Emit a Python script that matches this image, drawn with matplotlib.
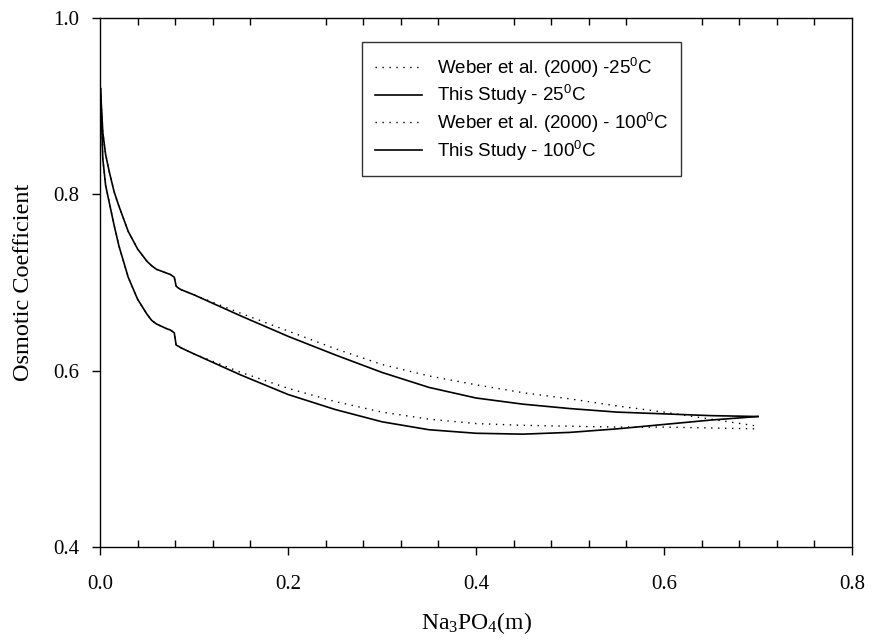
import numpy as np
import matplotlib
matplotlib.use("Agg")
from matplotlib import pyplot as plt
from matplotlib.ticker import MultipleLocator, FormatStrFormatter

plt.rcParams['mathtext.fontset'] = 'custom'
plt.rcParams['mathtext.rm'] = 'Liberation Serif'
plt.rcParams['mathtext.sf'] = 'Liberation Sans'

# molality values (m), shared low-concentration part
x_low = [0.0005, 0.003, 0.006, 0.01, 0.015, 0.02, 0.03, 0.04, 0.05, 0.055,
         0.06, 0.07, 0.075, 0.079, 0.081, 0.083, 0.086, 0.1]

# 25 C
y25_low = [0.920, 0.870, 0.845, 0.825, 0.803, 0.787, 0.758, 0.738, 0.724, 0.719,
           0.715, 0.711, 0.709, 0.706, 0.696, 0.694, 0.692, 0.686]
x_hi = [0.15, 0.2, 0.25, 0.3, 0.35, 0.4, 0.45, 0.5, 0.55, 0.6, 0.65, 0.7]
y25_study = [0.662, 0.639, 0.618, 0.598, 0.581, 0.569, 0.562, 0.557, 0.553, 0.551, 0.549, 0.548]
y25_weber = [0.665, 0.645, 0.625, 0.607, 0.594, 0.584, 0.575, 0.568, 0.560, 0.553, 0.545, 0.537]

# 100 C
y100_low = [0.920, 0.840, 0.810, 0.790, 0.765, 0.742, 0.706, 0.681, 0.664, 0.657,
            0.653, 0.648, 0.646, 0.643, 0.629, 0.628, 0.626, 0.619]
y100_study = [0.595, 0.573, 0.556, 0.542, 0.533, 0.529, 0.528, 0.530, 0.534, 0.539, 0.544, 0.548]
y100_weber = [0.598, 0.580, 0.565, 0.553, 0.545, 0.540, 0.538, 0.537, 0.536, 0.536, 0.535, 0.534]

labels = [r'Weber et al. (2000) -25$^{\mathsf{0}}$C',
          r'This Study - 25$^{\mathsf{0}}$C',
          r'Weber et al. (2000) - 100$^{\mathsf{0}}$C',
          r'This Study - 100$^{\mathsf{0}}$C']

x = np.array(x_low + x_hi)
w25 = np.array(y25_low + y25_weber)
s25 = np.array(y25_low + y25_study)
w100 = np.array(y100_low + y100_weber)
s100 = np.array(y100_low + y100_study)

fig = plt.figure(figsize=(8.72, 6.41), dpi=100)
ax = fig.add_axes([100 / 872, 94 / 641, 752 / 872, 529 / 641])

dots = dict(color='black', lw=1.0, linestyle=(0, (1, 4)))
solid = dict(color='black', lw=1.2)
ax.plot(x, w25, label=labels[0], **dots)
ax.plot(x, s25, label=labels[1], **solid)
ax.plot(x, w100, label=labels[2], **dots)
ax.plot(x, s100, label=labels[3], **solid)

ax.set_xlim(0, 0.8)
ax.set_ylim(0.4, 1.0)
ax.xaxis.set_major_locator(MultipleLocator(0.2))
ax.xaxis.set_minor_locator(MultipleLocator(0.04))
ax.yaxis.set_major_locator(MultipleLocator(0.2))
ax.xaxis.set_major_formatter(FormatStrFormatter('%.1f'))
ax.yaxis.set_major_formatter(FormatStrFormatter('%.1f'))

ax.tick_params(axis='x', which='major', direction='out', length=6, width=1,
               top=False, bottom=True, labelsize=15, pad=14)
ax.tick_params(axis='x', which='minor', direction='in', length=5, width=1,
               top=True, bottom=True)
ax.tick_params(axis='y', which='major', direction='out', length=6, width=1,
               right=False, labelsize=15, pad=9)
for lab in ax.get_xticklabels() + ax.get_yticklabels():
    lab.set_fontfamily('Liberation Serif')
for sp in ax.spines.values():
    sp.set_linewidth(1.0)

ax.set_xlabel(r'$\mathrm{Na_3PO_4(m)}$', fontsize=17, labelpad=12)
ax.set_ylabel('Osmotic Coefficient', fontsize=17.5, family='Liberation Serif', labelpad=14)

leg = ax.legend(loc='upper left', bbox_to_anchor=(0.348, 0.955), borderaxespad=0,
                prop={'family': 'Liberation Sans', 'size': 13.5}, fancybox=False,
                edgecolor='black', handlelength=2.5, labelspacing=0.15,
                borderpad=0.7, handletextpad=0.8)
leg.get_frame().set_linewidth(1.0)

fig.savefig('out.png', dpi=100)
